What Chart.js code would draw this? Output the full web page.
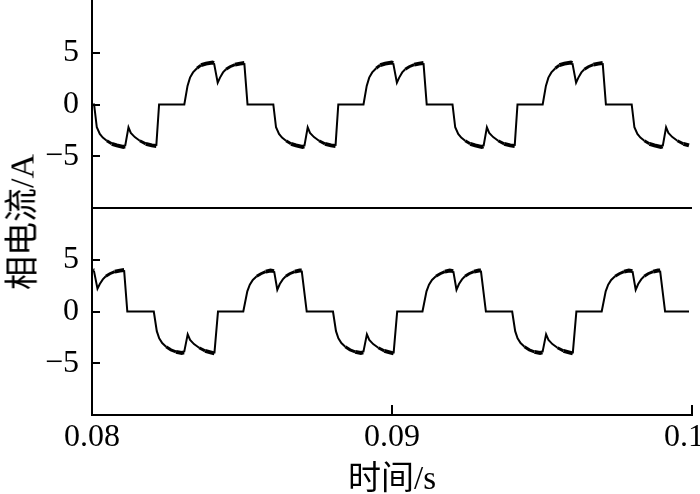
<!DOCTYPE html>
<html lang="zh">
<head>
  <meta charset="UTF-8" />
  <title>相电流</title>
  <style>
    body {
      margin: 0;
      background: #ffffff;
    }

    .wrap {
      position: relative;
      width: 700px;
      height: 494px;
    }

    #yTitle {
      position: absolute;
      left: 19px;
      top: 222px;
      transform: translate(-50%, -50%) rotate(-90deg);
      font-family: 'Liberation Serif', 'Noto Sans CJK SC', serif;
      font-size: 34px;
      white-space: nowrap;
      color: #000;
    }
  </style>
</head>
<body>

  <div class="wrap">
    <canvas id="currentChart" width="700" height="494"></canvas>
    <div id="yTitle">相电流/A</div>
  </div>

  <script src="https://cdn.jsdelivr.net/npm/chart.js"></script>

  <script>
    // time in ms
    const topTimeMs = [
      80.03, 80.07, 80.16, 80.26, 80.36, 80.493, 80.66, 80.826, 81.043, 81.103, 81.216, 81.293, 81.426, 81.593, 81.793, 81.993, 82.143, 82.236,
      83.077, 83.184, 83.267, 83.367, 83.5, 83.634, 83.8, 84.017, 84.067, 84.19, 84.267, 84.367, 84.467, 84.6, 84.767, 84.934, 85.077, 85.184,
      86.044, 86.134, 86.234, 86.334, 86.467, 86.634, 86.8, 87.017, 87.077, 87.19, 87.267, 87.4, 87.567, 87.767, 87.967, 88.117, 88.21,
      89.05, 89.157, 89.24, 89.34, 89.473, 89.607, 89.773, 89.99, 90.04, 90.163, 90.24, 90.34, 90.44, 90.573, 90.74, 90.907, 91.05, 91.157,
      92.017, 92.107, 92.207, 92.307, 92.44, 92.607, 92.773, 92.99, 93.05, 93.163, 93.24, 93.373, 93.54, 93.74, 93.94, 94.09, 94.183,
      95.023, 95.13, 95.213, 95.313, 95.446, 95.58, 95.746, 95.963, 96.013, 96.136, 96.213, 96.313, 96.413, 96.546, 96.713, 96.88, 97.023, 97.13,
      97.99, 98.08, 98.18, 98.28, 98.413, 98.58, 98.746, 98.963, 99.023, 99.136, 99.213, 99.346, 99.513, 99.713, 99.9
    ];
    const topCurrent = [
      0, 0, -2.2, -2.85, -3.2, -3.5, -3.8, -3.95, -4.1, -4.05, -2.2, -2.75, -3.15, -3.5, -3.8, -3.95, -4.0, 0,
      0, 1.8, 2.6, 3.1, 3.5, 3.8, 3.95, 4.05, 4.0, 2.1, 2.6, 3.1, 3.4, 3.65, 3.85, 3.95, 4.0, 0,
      0, -2.2, -2.85, -3.2, -3.5, -3.8, -3.95, -4.1, -4.05, -2.2, -2.75, -3.15, -3.5, -3.8, -3.95, -4.0, 0,
      0, 1.8, 2.6, 3.1, 3.5, 3.8, 3.95, 4.05, 4.0, 2.1, 2.6, 3.1, 3.4, 3.65, 3.85, 3.95, 4.0, 0,
      0, -2.2, -2.85, -3.2, -3.5, -3.8, -3.95, -4.1, -4.05, -2.2, -2.75, -3.15, -3.5, -3.8, -3.95, -4.0, 0,
      0, 1.8, 2.6, 3.1, 3.5, 3.8, 3.95, 4.05, 4.0, 2.1, 2.6, 3.1, 3.4, 3.65, 3.85, 3.95, 4.0, 0,
      0, -2.2, -2.85, -3.2, -3.5, -3.8, -3.95, -4.1, -4.05, -2.2, -2.75, -3.15, -3.5, -3.8, -3.95
    ];

    const bottomTimeMs = [
      80.03, 80.063, 80.183, 80.26, 80.36, 80.46, 80.593, 80.76, 80.927, 81.07, 81.177,
      82.06, 82.16, 82.24, 82.34, 82.47, 82.63, 82.8, 82.99, 83.07, 83.19, 83.27, 83.4, 83.57, 83.77, 83.95, 84.08, 84.2,
      85.043, 85.177, 85.26, 85.36, 85.49, 85.63, 85.79, 85.95, 86.07, 86.177, 86.26, 86.36, 86.46, 86.59, 86.76, 86.92, 86.99, 87.157,
      88.033, 88.133, 88.213, 88.313, 88.443, 88.603, 88.773, 88.963, 89.043, 89.163, 89.243, 89.373, 89.543, 89.743, 89.923, 90.053, 90.173,
      91.016, 91.15, 91.233, 91.333, 91.463, 91.603, 91.763, 91.923, 92.043, 92.15, 92.233, 92.333, 92.433, 92.563, 92.733, 92.893, 92.963, 93.13,
      94.006, 94.106, 94.186, 94.286, 94.416, 94.576, 94.746, 94.936, 95.016, 95.136, 95.216, 95.346, 95.516, 95.716, 95.896, 96.026, 96.146,
      96.99, 97.123, 97.206, 97.306, 97.436, 97.576, 97.736, 97.896, 98.016, 98.123, 98.206, 98.306, 98.406, 98.536, 98.706, 98.866, 98.936, 99.103, 99.9
    ];
    const bottomCurrent = [
      4.0, 3.95, 2.2, 2.65, 3.1, 3.4, 3.65, 3.85, 3.95, 4.0, 0,
      0, -1.9, -2.6, -3.05, -3.4, -3.7, -3.9, -4.0, -3.95, -2.2, -2.75, -3.15, -3.5, -3.8, -3.95, -4.05, 0,
      0, 1.95, 2.6, 3.05, 3.4, 3.65, 3.85, 3.95, 3.9, 2.1, 2.65, 3.1, 3.4, 3.65, 3.85, 3.95, 3.95, 0,
      0, -1.9, -2.6, -3.05, -3.4, -3.7, -3.9, -4.0, -3.95, -2.2, -2.75, -3.15, -3.5, -3.8, -3.95, -4.05, 0,
      0, 1.95, 2.6, 3.05, 3.4, 3.65, 3.85, 3.95, 3.9, 2.1, 2.65, 3.1, 3.4, 3.65, 3.85, 3.95, 3.95, 0,
      0, -1.9, -2.6, -3.05, -3.4, -3.7, -3.9, -4.0, -3.95, -2.2, -2.75, -3.15, -3.5, -3.8, -3.95, -4.05, 0,
      0, 1.95, 2.6, 3.05, 3.4, 3.65, 3.85, 3.95, 3.9, 2.1, 2.65, 3.1, 3.4, 3.65, 3.85, 3.95, 3.95, 0, 0
    ];

    const xTicks = [0.08, 0.09, 0.1];
    const yTicks = [-5, 0, 5];

    const serif = "'Liberation Serif', 'Noto Sans CJK SC', serif";

    function toPoints(times, values) {
      return times.map((t, i) => ({ x: t / 1000, y: values[i] }));
    }

    // the trace looks thicker near the peaks (ripple)
    function rippleWidth(ctx) {
      const m = Math.min(Math.abs(ctx.p0.parsed.y), Math.abs(ctx.p1.parsed.y));
      if (m > 3.75) return 4;
      if (m > 3.3) return 3;
      return 2;
    }

    function fmtY(v) {
      return v < 0 ? '\u2212' + Math.abs(v) : String(v);
    }

    // last label sits inside the picture, trailing spaces nudge it left
    function fmtX(v) {
      const s = String(Number(v.toFixed(2)));
      return v > 0.095 ? s + '\u00a0\u00a0' : s;
    }

    // ticks pointing into the plot + separator between the two panels
    const innerTicks = {
      id: 'innerTicks',
      afterDraw(chart) {
        const { ctx, chartArea, scales } = chart;
        ctx.save();
        ctx.strokeStyle = '#000';
        ctx.lineWidth = 2;
        ctx.beginPath();
        ['yTop', 'yBot'].forEach(id => {
          const s = scales[id];
          s.ticks.forEach(t => {
            const y = Math.round(s.getPixelForValue(t.value));
            ctx.moveTo(s.right, y);
            ctx.lineTo(s.right + 8, y);
          });
        });
        const xs = scales.x;
        xs.ticks.forEach(t => {
          const px = Math.round(xs.getPixelForValue(t.value));
          ctx.moveTo(px, xs.top);
          ctx.lineTo(px, xs.top - 10);
        });
        const sep = Math.round(scales.yTop.bottom);
        ctx.moveTo(chartArea.left, sep);
        ctx.lineTo(chartArea.right, sep);
        ctx.stroke();
        ctx.restore();
      }
    };

    const yCommon = {
      type: 'linear',
      position: 'left',
      stack: 'phase',
      stackWeight: 1,
      min: -10,
      max: 10,
      grid: { display: false, drawTicks: false },
      border: { display: true, color: '#000', width: 2 },
      ticks: {
        color: '#000',
        padding: 13,
        font: { family: serif, size: 32 },
        callback: fmtY
      },
      afterBuildTicks: s => { s.ticks = yTicks.map(v => ({ value: v })); },
      afterFit: s => { s.width = 92; s.paddingTop = 0; s.paddingBottom = 0; }
    };

    new Chart(document.getElementById('currentChart'), {
      type: 'line',
      data: {
        datasets: [
          {
            label: 'top',
            data: toPoints(topTimeMs, topCurrent),
            yAxisID: 'yTop',
            borderColor: '#000',
            borderWidth: 2,
            pointRadius: 0,
            tension: 0,
            segment: { borderWidth: rippleWidth }
          },
          {
            label: 'bottom',
            data: toPoints(bottomTimeMs, bottomCurrent),
            yAxisID: 'yBot',
            borderColor: '#000',
            borderWidth: 2,
            pointRadius: 0,
            tension: 0,
            segment: { borderWidth: rippleWidth }
          }
        ]
      },
      options: {
        responsive: false,
        animation: false,
        devicePixelRatio: 1,
        layout: { padding: { top: 1, right: 8, bottom: 0, left: 0 } },
        plugins: {
          legend: { display: false },
          tooltip: { enabled: false }
        },
        scales: {
          x: {
            type: 'linear',
            position: 'bottom',
            min: 0.08,
            max: 0.1,
            grid: { display: false, drawTicks: false },
            border: { display: true, color: '#000', width: 2 },
            ticks: {
              color: '#000',
              padding: 3,
              maxRotation: 0,
              font: { family: serif, size: 32 },
              callback: fmtX
            },
            afterBuildTicks: s => { s.ticks = xTicks.map(v => ({ value: v })); },
            afterFit: s => { s.height = 79; s.paddingLeft = 0; s.paddingRight = 0; },
            title: {
              display: true,
              text: '时间/s',
              color: '#000',
              padding: { top: -6, bottom: -6 },
              font: { family: serif, size: 33 }
            }
          },
          yTop: Object.assign({}, yCommon, { weight: 1 }),
          yBot: Object.assign({}, yCommon, { weight: 0 })
        }
      },
      plugins: [innerTicks]
    });
  </script>

</body>
</html>
